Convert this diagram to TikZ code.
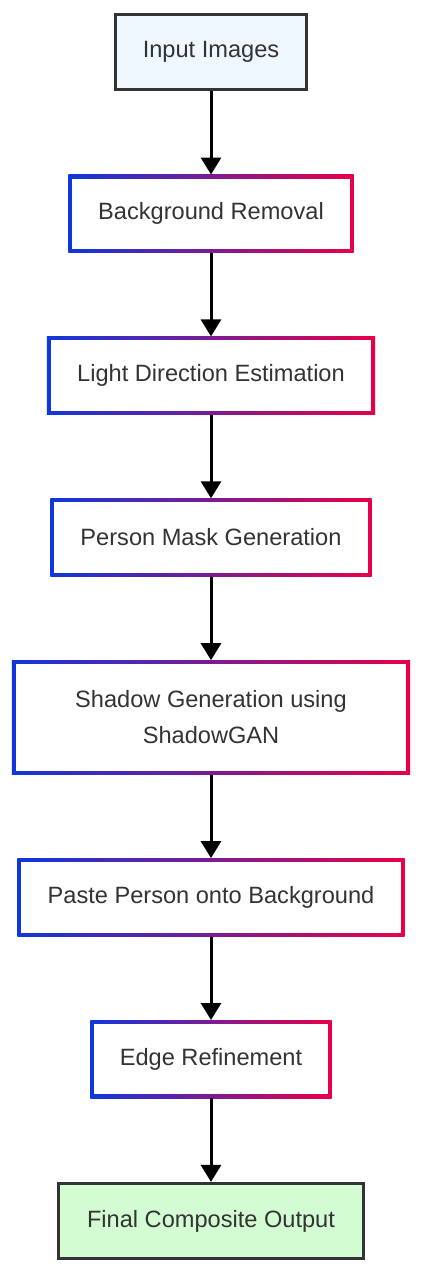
\documentclass[tikz,border=0pt]{standalone}
\usepackage{fontspec}
\setmainfont{Liberation Sans}
\usetikzlibrary{arrows.meta, positioning, backgrounds, calc}

\definecolor{gradblue}{RGB}{15,55,220}
\definecolor{gradred}{RGB}{232,0,72}
\definecolor{textgray}{RGB}{51,51,51}
\definecolor{darkedge}{RGB}{51,51,51}
\definecolor{inputfill}{RGB}{239,247,255}
\definecolor{outputfill}{RGB}{212,252,210}

\begin{document}
\begin{tikzpicture}[
  x=1pt, y=-1pt,
  node distance=83.5pt,
  every node/.style = {font=\fontsize{23.6}{36}\selectfont, text=textgray},
  %-- block styles -------------------------------------------------------
  stage/.style   = {rectangle, inner sep=0pt, minimum height=78pt, align=center},
  endbox/.style  = {stage, draw=darkedge, line width=3pt,
                    minimum height=75pt},
  arrow/.style   = {-{Triangle[length=17pt,width=20pt]}, line width=3pt},
]

\useasboundingbox (0,0) rectangle (425,1280);

% ── Pipeline stages ───────────────────────────────────────────────────────────
\node[endbox, fill=inputfill, minimum width=191pt] (input) at (211,52) {Input Images};
\node[stage, below=of input,  minimum width=285pt] (bgrem)  {Background Removal};
\node[stage, below=of bgrem,  minimum width=328pt] (light)  {Light Direction Estimation};
\node[stage, below=of light,  minimum width=321pt] (mask)   {Person Mask Generation};
\node[stage, below=of mask,   minimum width=398pt, minimum height=114pt] (shadow)
     {Shadow Generation using\\ShadowGAN};
\node[stage, below=of shadow, minimum width=387pt] (paste)  {Paste Person onto Background};
\node[stage, below=of paste,  minimum width=241pt] (edge)   {Edge Refinement};
\node[endbox, below=of edge, fill=outputfill, minimum width=305pt] (final)
     {Final Composite Output};

% ── Gradient frames behind the middle stages ──────────────────────────────────
\begin{scope}[on background layer]
  \foreach \n in {bgrem, light, mask, shadow, paste, edge} {
    \shade[left color=gradblue, right color=gradred]
      (\n.south west) rectangle (\n.north east);
    \fill[white] ($(\n.south west)+(4,-4)$) rectangle ($(\n.north east)+(-4,4)$);
  }
\end{scope}

% ── Flow ─────────────────────────────────────────────────────────────────────
\draw[arrow] (input)  -- (bgrem);
\draw[arrow] (bgrem)  -- (light);
\draw[arrow] (light)  -- (mask);
\draw[arrow] (mask)   -- (shadow);
\draw[arrow] (shadow) -- (paste);
\draw[arrow] (paste)  -- (edge);
\draw[arrow] (edge)   -- (final);

\end{tikzpicture}
\end{document}
